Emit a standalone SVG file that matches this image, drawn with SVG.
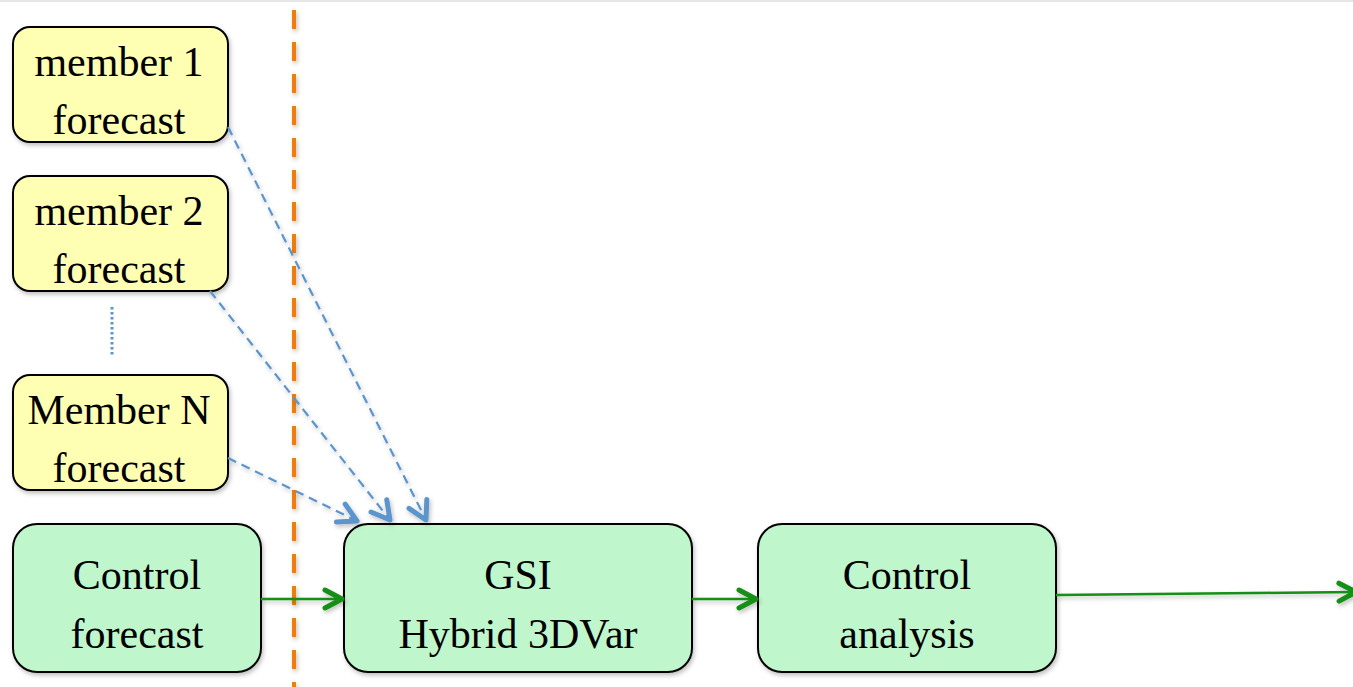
<svg xmlns="http://www.w3.org/2000/svg" width="1353" height="687" viewBox="0 0 1353 687">
<defs>
<style>
.y{fill:#ffffb3;stroke:#000;stroke-width:2}
.g{fill:#c0f6cc;stroke:#000;stroke-width:2}
.t{font-family:'Liberation Serif','Times New Roman','DejaVu Serif',serif;font-size:42px;fill:#000;text-anchor:middle}
.b{fill:none;stroke:#5b94cc;stroke-width:2.2;stroke-dasharray:9 6}
.gr{fill:none;stroke:#138f13;stroke-width:2.5}
</style>
<marker id="ab" viewBox="0 0 12 12" refX="10" refY="6" markerWidth="12" markerHeight="12" markerUnits="userSpaceOnUse" orient="auto" overflow="visible">
<path d="M-8,-4 L10,6 L-8,16" fill="none" stroke="#5b94cc" stroke-width="5" stroke-linecap="round" stroke-linejoin="round"/>
</marker>
<marker id="ag" viewBox="0 0 12 12" refX="10" refY="6" markerWidth="12" markerHeight="12" markerUnits="userSpaceOnUse" orient="auto" overflow="visible">
<path d="M-7,-3 L10,6 L-7,15" fill="none" stroke="#138f13" stroke-width="5" stroke-linecap="round" stroke-linejoin="round"/>
</marker>
<filter id="sh" filterUnits="userSpaceOnUse" x="0" y="0" width="1353" height="687">
<feDropShadow dx="1.5" dy="2.5" stdDeviation="2" flood-color="#000" flood-opacity="0.25"/>
</filter>
</defs>
<rect width="1353" height="687" fill="#fff"/>
<line x1="0" y1="1" x2="1353" y2="1" stroke="#e6e6e6" stroke-width="2"/>
<g id="divider">
<line x1="294" y1="10" x2="294" y2="700" stroke="#ed7d0b" stroke-width="4" stroke-dasharray="19 13" filter="url(#sh)"/>
</g>
<g id="member1">
<rect class="y" x="13" y="27" width="215" height="115" rx="17" filter="url(#sh)"/>
<text class="t" x="119" y="76">member 1</text>
<text class="t" x="119" y="134">forecast</text>
</g>
<g id="member2">
<rect class="y" x="13" y="176" width="215" height="115" rx="17" filter="url(#sh)"/>
<text class="t" x="119" y="225">member 2</text>
<text class="t" x="119" y="283">forecast</text>
</g>
<g id="ellipsis">
<line x1="112" y1="307" x2="112" y2="355" stroke="#5b94cc" stroke-width="3" stroke-dasharray="2.5 2.5"/>
</g>
<g id="memberN">
<rect class="y" x="13" y="375" width="215" height="115" rx="17" filter="url(#sh)"/>
<text class="t" x="119" y="424">Member N</text>
<text class="t" x="119" y="482">forecast</text>
</g>
<g id="control-forecast">
<rect class="g" x="13" y="524" width="248" height="148" rx="24" filter="url(#sh)"/>
<text class="t" x="137" y="589">Control</text>
<text class="t" x="137" y="648">forecast</text>
</g>
<g id="gsi">
<rect class="g" x="344" y="524" width="348" height="148" rx="24" filter="url(#sh)"/>
<text class="t" x="518" y="589">GSI</text>
<text class="t" x="518" y="648">Hybrid 3DVar</text>
</g>
<g id="control-analysis">
<rect class="g" x="758" y="524" width="298" height="148" rx="24" filter="url(#sh)"/>
<text class="t" x="907" y="589">Control</text>
<text class="t" x="907" y="648">analysis</text>
</g>
<g id="connectors" filter="url(#sh)">
<line class="b" x1="228" y1="127" x2="426" y2="520" marker-end="url(#ab)"/>
<line class="b" x1="210" y1="291" x2="390" y2="520" marker-end="url(#ab)"/>
<line class="b" x1="228" y1="458" x2="357" y2="521" marker-end="url(#ab)"/>
<line class="gr" x1="261" y1="599" x2="342" y2="599" marker-end="url(#ag)"/>
<line class="gr" x1="692" y1="599" x2="756" y2="599" marker-end="url(#ag)"/>
<line class="gr" x1="1056" y1="595" x2="1356" y2="592" marker-end="url(#ag)"/>
</g>
</svg>
